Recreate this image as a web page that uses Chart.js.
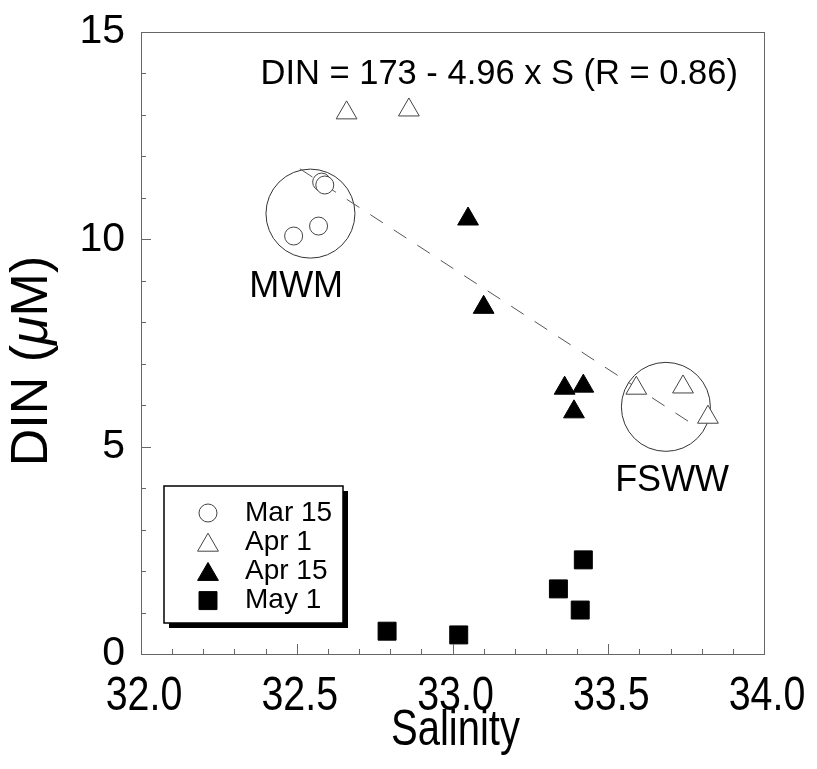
<!DOCTYPE html>
<html>
<head>
<meta charset="utf-8">
<script src="https://cdn.jsdelivr.net/npm/chart.js@4/dist/chart.umd.min.js"></script>
<style>
  body { margin: 0; background: #fff; }
  #wrap { width: 817px; height: 769px; }
</style>
</head>
<body>
<div id="wrap"><canvas id="chart" width="817" height="769"></canvas></div>
<script>
// Salinity vs DIN data
const mar15Sal = [32.49, 32.57, 32.58, 32.59];
const mar15Din = [10.08, 10.32, 11.38, 11.31];

const apr1Sal = [32.66, 32.86, 33.59, 33.74, 33.82];
const apr1Din = [13.05, 13.12, 6.41, 6.44, 5.71];

const apr15Sal = [33.05, 33.10, 33.36, 33.42, 33.39];
const apr15Din = [10.49, 8.36, 6.41, 6.46, 5.84];

const may1Sal = [32.79, 33.02, 33.34, 33.42, 33.41];
const may1Din = [0.55, 0.46, 1.57, 2.27, 1.06];

// regression line end points
const fitSal = [32.51, 33.79];
const fitDin = [11.70, 5.45];

// water mass circles
const zoneNames = ['MWM', 'FSWW'];
const zoneSal = [32.544, 33.685];
const zoneDin = [10.62, 5.96];
const zoneLabelSal = [32.498, 33.705];
const zoneLabelDin = [8.85, 4.17];

const seriesLabels = ['Mar 15', 'Apr 1', 'Apr 15', 'May 1'];
const xTickValues = [32.0, 32.5, 33.0, 33.5, 34.0];
const xTickLabels = ['32.0', '32.5', '33.0', '33.5', '34.0'];
const yTickLabels = ['0', '5', '10', '15'];
const equationText = 'DIN = 173 - 4.96 x S (R = 0.86)';

const toPoints = (xs, ys) => xs.map((x, i) => ({ x: x, y: ys[i] }));

const font = '"Liberation Sans", Arial, sans-serif';

// marker styles shared by plot and legend
const styles = [
  { pointStyle: 'circle', radius: 9, bg: '#fff', border: '#444' },
  { pointStyle: 'triangle', radius: 12, bg: '#fff', border: '#444' },
  { pointStyle: 'triangle', radius: 12, bg: '#000', border: '#000' },
  { pointStyle: 'rect', radius: 12.7, bg: '#000', border: '#000' },
];

const seriesData = [
  toPoints(mar15Sal, mar15Din),
  toPoints(apr1Sal, apr1Din),
  toPoints(apr15Sal, apr15Din),
  toPoints(may1Sal, may1Din),
];

const datasets = seriesData.map((pts, i) => ({
  label: seriesLabels[i],
  data: pts,
  pointStyle: styles[i].pointStyle,
  pointRadius: styles[i].radius,
  pointBackgroundColor: styles[i].bg,
  pointBorderColor: styles[i].border,
  pointBorderWidth: 1,
  showLine: false,
}));

datasets.push({
  label: 'fit',
  type: 'line',
  data: toPoints(fitSal, fitDin),
  borderColor: '#555',
  borderWidth: 1,
  borderDash: [15, 13],
  pointRadius: 0,
  fill: false,
});

datasets.push({
  label: 'zones',
  data: toPoints(zoneSal, zoneDin),
  pointStyle: 'circle',
  pointRadius: 44.5,
  pointBackgroundColor: 'rgba(0,0,0,0)',
  pointBorderColor: '#333',
  pointBorderWidth: 1,
  showLine: false,
});

// text squeezed horizontally, like the condensed face of the original
function squeezed(ctx, text, x, y, sx) {
  ctx.save();
  ctx.translate(x, y);
  ctx.scale(sx, 1);
  ctx.fillText(text, 0, 0);
  ctx.restore();
}

// frame, inward ticks, axis texts, equation and legend
const decorations = {
  id: 'decorations',
  afterDatasetsDraw(chart) {
    const ctx = chart.ctx;
    const a = chart.chartArea;
    const xs = chart.scales.x;
    const ys = chart.scales.y;
    ctx.save();

    // frame
    ctx.strokeStyle = '#666';
    ctx.lineWidth = 1;
    ctx.strokeRect(Math.round(a.left) + 0.5, Math.round(a.top) + 0.5,
      Math.round(a.right - a.left), Math.round(a.bottom - a.top));

    // x ticks every 0.1, longer every 0.5
    ctx.beginPath();
    for (let i = 1; i < 20; i++) {
      const px = Math.round(xs.getPixelForValue(32 + i * 0.1)) + 0.5;
      const len = i % 5 === 0 ? 10 : 5;
      ctx.moveTo(px, a.bottom);
      ctx.lineTo(px, a.bottom - len);
    }
    // y ticks every 1, longer every 5
    for (let i = 1; i < 15; i++) {
      const py = Math.round(ys.getPixelForValue(i)) + 0.5;
      const len = i % 5 === 0 ? 10 : 5;
      ctx.moveTo(a.left, py);
      ctx.lineTo(a.left + len, py);
    }
    ctx.stroke();

    ctx.fillStyle = '#000';
    ctx.textAlign = 'center';
    ctx.textBaseline = 'alphabetic';

    // x tick labels
    ctx.font = '48px ' + font;
    xTickValues.forEach((v, i) => {
      squeezed(ctx, xTickLabels[i], xs.getPixelForValue(v) + 3, a.bottom + 56, 0.82);
    });

    // x title
    ctx.font = '50px ' + font;
    squeezed(ctx, 'Salinity', (a.left + a.right) / 2 + 3, a.bottom + 91, 0.8);

    // y title, with italic mu
    ctx.save();
    ctx.translate(47, 361);
    ctx.rotate(-Math.PI / 2);
    ctx.textAlign = 'left';
    const p1 = 'DIN (', p2 = 'μ', p3 = 'M)';
    const fs = 52;
    ctx.font = fs + 'px ' + font;
    const w1 = ctx.measureText(p1).width, w3 = ctx.measureText(p3).width;
    ctx.font = 'italic ' + fs + 'px ' + font;
    const w2 = ctx.measureText(p2).width;
    let tx = -(w1 + w2 + w3) / 2;
    ctx.font = fs + 'px ' + font;
    ctx.fillText(p1, tx, 0);
    ctx.font = 'italic ' + fs + 'px ' + font;
    ctx.fillText(p2, tx + w1, 0);
    ctx.font = fs + 'px ' + font;
    ctx.fillText(p3, tx + w1 + w2, 0);
    ctx.restore();

    // zone labels
    ctx.font = '36px ' + font;
    ctx.textBaseline = 'middle';
    zoneNames.forEach((name, i) => {
      ctx.fillText(name, xs.getPixelForValue(zoneLabelSal[i]), ys.getPixelForValue(zoneLabelDin[i]));
    });

    // equation
    ctx.font = '34.5px ' + font;
    ctx.textBaseline = 'alphabetic';
    ctx.fillText(equationText, xs.getPixelForValue(33.15), ys.getPixelForValue(13.74));

    // legend box with shadow
    const lx = a.left + 23, ly = a.bottom - 168, lw = 179, lh = 137;
    ctx.fillStyle = '#000';
    ctx.fillRect(lx + 5, ly + 5, lw, lh);
    ctx.fillStyle = '#fff';
    ctx.fillRect(lx, ly, lw, lh);
    ctx.strokeStyle = '#000';
    ctx.lineWidth = 1.5;
    ctx.strokeRect(lx, ly, lw, lh);

    ctx.font = '28px ' + font;
    ctx.textAlign = 'left';
    ctx.textBaseline = 'middle';
    seriesLabels.forEach((lab, i) => {
      const ry = ly + 27 + i * 29.2;
      const s = styles[i];
      ctx.fillStyle = s.bg;
      ctx.strokeStyle = s.border;
      ctx.lineWidth = 1;
      Chart.helpers.drawPoint(ctx, { pointStyle: s.pointStyle, radius: s.radius, borderWidth: 1 }, lx + 44, ry + (s.pointStyle === 'triangle' ? 3 : 0));
      ctx.fillStyle = '#000';
      ctx.fillText(lab, lx + 81, ry);
    });

    ctx.restore();
  }
};

new Chart(document.getElementById('chart'), {
  type: 'scatter',
  data: { datasets: datasets },
  options: {
    responsive: false,
    animation: false,
    layout: { autoPadding: false, padding: { top: 32, right: 53, left: 0, bottom: 0 } },
    plugins: {
      legend: { display: false },
      tooltip: { enabled: false },
    },
    scales: {
      x: {
        type: 'linear',
        min: 32,
        max: 34,
        afterFit(scale) { scale.height = 115; },
        grid: { display: false, drawTicks: false },
        border: { display: false },
        ticks: { display: false, stepSize: 0.5 },
      },
      y: {
        type: 'linear',
        min: 0,
        max: 15,
        afterFit(scale) { scale.width = 141; },
        grid: { display: false, drawTicks: false },
        border: { display: false },
        ticks: {
          stepSize: 5,
          padding: 16,
          color: '#000',
          font: { family: font, size: 41, lineHeight: 0.5 },
          callback: (v, i) => yTickLabels[i],
        },
      },
    },
  },
  plugins: [decorations],
});
</script>
</body>
</html>
